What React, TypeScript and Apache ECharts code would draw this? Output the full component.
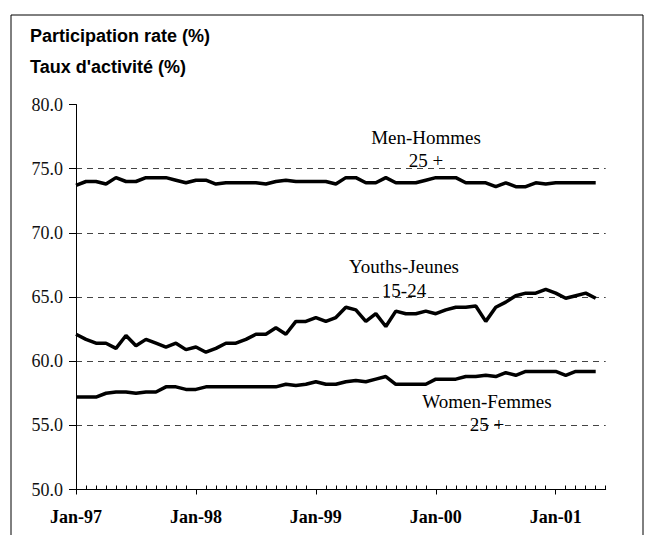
import React, { useEffect, useRef } from "react";
import * as echarts from "echarts";

const months = ["Jan", "Feb", "Mar", "Apr", "May", "Jun", "Jul", "Aug", "Sep", "Oct", "Nov", "Dec"];
const years = ["97", "98", "99", "00", "01"];
const categories: string[] = [];
years.forEach((y, yi) => {
  months.forEach((m, mi) => {
    if (yi < 4 || mi < 6) categories.push(`${m}-${y}`);
  });
});

const men = [
  73.7, 74.0, 74.0, 73.8, 74.3, 74.0, 74.0, 74.3, 74.3, 74.3, 74.1, 73.9,
  74.1, 74.1, 73.8, 73.9, 73.9, 73.9, 73.9, 73.8, 74.0, 74.1, 74.0, 74.0,
  74.0, 74.0, 73.8, 74.3, 74.3, 73.9, 73.9, 74.3, 73.9, 73.9, 73.9, 74.1,
  74.3, 74.3, 74.3, 73.9, 73.9, 73.9, 73.6, 73.9, 73.6, 73.6, 73.9, 73.8,
  73.9, 73.9, 73.9, 73.9, 73.9,
];
const youths = [
  62.1, 61.7, 61.4, 61.4, 61.0, 62.0, 61.2, 61.7, 61.4, 61.1, 61.4, 60.9,
  61.1, 60.7, 61.0, 61.4, 61.4, 61.7, 62.1, 62.1, 62.6, 62.1, 63.1, 63.1,
  63.4, 63.1, 63.4, 64.2, 64.0, 63.1, 63.7, 62.7, 63.9, 63.7, 63.7, 63.9,
  63.7, 64.0, 64.2, 64.2, 64.3, 63.1, 64.2, 64.6, 65.1, 65.3, 65.3, 65.6,
  65.3, 64.9, 65.1, 65.3, 64.9,
];
const women = [
  57.2, 57.2, 57.2, 57.5, 57.6, 57.6, 57.5, 57.6, 57.6, 58.0, 58.0, 57.8,
  57.8, 58.0, 58.0, 58.0, 58.0, 58.0, 58.0, 58.0, 58.0, 58.2, 58.1, 58.2,
  58.4, 58.2, 58.2, 58.4, 58.5, 58.4, 58.6, 58.8, 58.2, 58.2, 58.2, 58.2,
  58.6, 58.6, 58.6, 58.8, 58.8, 58.9, 58.8, 59.1, 58.9, 59.2, 59.2, 59.2,
  59.2, 58.9, 59.2, 59.2, 59.2,
];

const titleLines = ["Participation rate (%)", "Taux d'activité (%)"];
const seriesLabels = [
  { name: "Men-Hommes", sub: "25 +", x: 426, y: 137, y2: 160 },
  { name: "Youths-Jeunes", sub: "15-24", x: 404, y: 266, y2: 290 },
  { name: "Women-Femmes", sub: "25 +", x: 487, y: 401, y2: 424 },
];

const serif = "'Liberation Serif', 'Times New Roman', serif";
const sans = "'Liberation Sans', Arial, sans-serif";

export default function App() {
  const ref = useRef<HTMLDivElement>(null);
  useEffect(() => {
    if (!ref.current) return;
    const chart = echarts.init(ref.current, undefined, { renderer: "svg" });
    const lineSeries = (name: string, data: number[]) => ({
      name,
      type: "line",
      data,
      symbol: "none",
      lineStyle: { color: "#000", width: 3.5 },
      z: 5,
    });
    const graphics: any[] = [
      {
        type: "rect",
        shape: { x: 11, y: 15, width: 632, height: 540 },
        style: { fill: "none", stroke: "#000", lineWidth: 1 },
        silent: true,
      },
      ...titleLines.map((t, i) => ({
        type: "text",
        left: 30,
        top: 27 + i * 31,
        style: { text: t, font: `bold 18px ${sans}`, fill: "#000" },
      })),
    ];
    seriesLabels.forEach((s) => {
      graphics.push({
        type: "text",
        x: s.x,
        y: s.y,
        style: { text: s.name, font: `19px ${serif}`, fill: "#000", align: "center", verticalAlign: "middle" },
        z: 10,
      });
      graphics.push({
        type: "text",
        x: s.x,
        y: s.y2,
        style: { text: s.sub, font: `19px ${serif}`, fill: "#000", align: "center", verticalAlign: "middle" },
        z: 10,
      });
    });
    chart.setOption({
      animation: false,
      backgroundColor: "#fff",
      grid: { left: 76, top: 104.5, width: 529.7, height: 385, containLabel: false },
      xAxis: [
        {
          type: "category",
          data: categories,
          boundaryGap: false,
          axisLine: { lineStyle: { color: "#000", width: 1 } },
          axisTick: {
            inside: true,
            length: 4,
            interval: (idx: number) => idx % 12 !== 0,
            lineStyle: { color: "#000" },
          },
          axisLabel: {
            interval: 11,
            color: "#000",
            fontFamily: serif,
            fontWeight: "bold",
            fontSize: 18,
            margin: 18,
          },
          splitLine: { show: false },
        },
        {
          type: "category",
          data: categories,
          boundaryGap: false,
          position: "bottom",
          axisLine: { show: false },
          axisTick: { inside: false, length: 5, interval: 11, lineStyle: { color: "#000" } },
          axisLabel: { show: false },
          splitLine: { show: false },
        },
      ],
      yAxis: {
        type: "value",
        min: 50,
        max: 80,
        interval: 5,
        axisLine: { show: true, lineStyle: { color: "#000", width: 1 } },
        axisTick: { show: true, length: 7, lineStyle: { color: "#000" } },
        axisLabel: {
          color: "#111",
          fontFamily: serif,
          fontSize: 18,
          margin: 13,
          formatter: (v: number) => v.toFixed(1),
        },
        splitLine: {
          show: true,
          lineStyle: {
            color: ["transparent", "#444", "#444", "#444", "#444", "#444", "transparent"],
            type: [6, 5],
            width: 1,
          },
        },
      },
      series: [lineSeries("Men-Hommes 25 +", men), lineSeries("Youths-Jeunes 15-24", youths), lineSeries("Women-Femmes 25 +", women)],
      graphic: graphics,
    });
    return () => chart.dispose();
  }, []);
  return <div ref={ref} style={{ position: "absolute", left: 0, top: 0, width: 649, height: 535 }} />;
}
